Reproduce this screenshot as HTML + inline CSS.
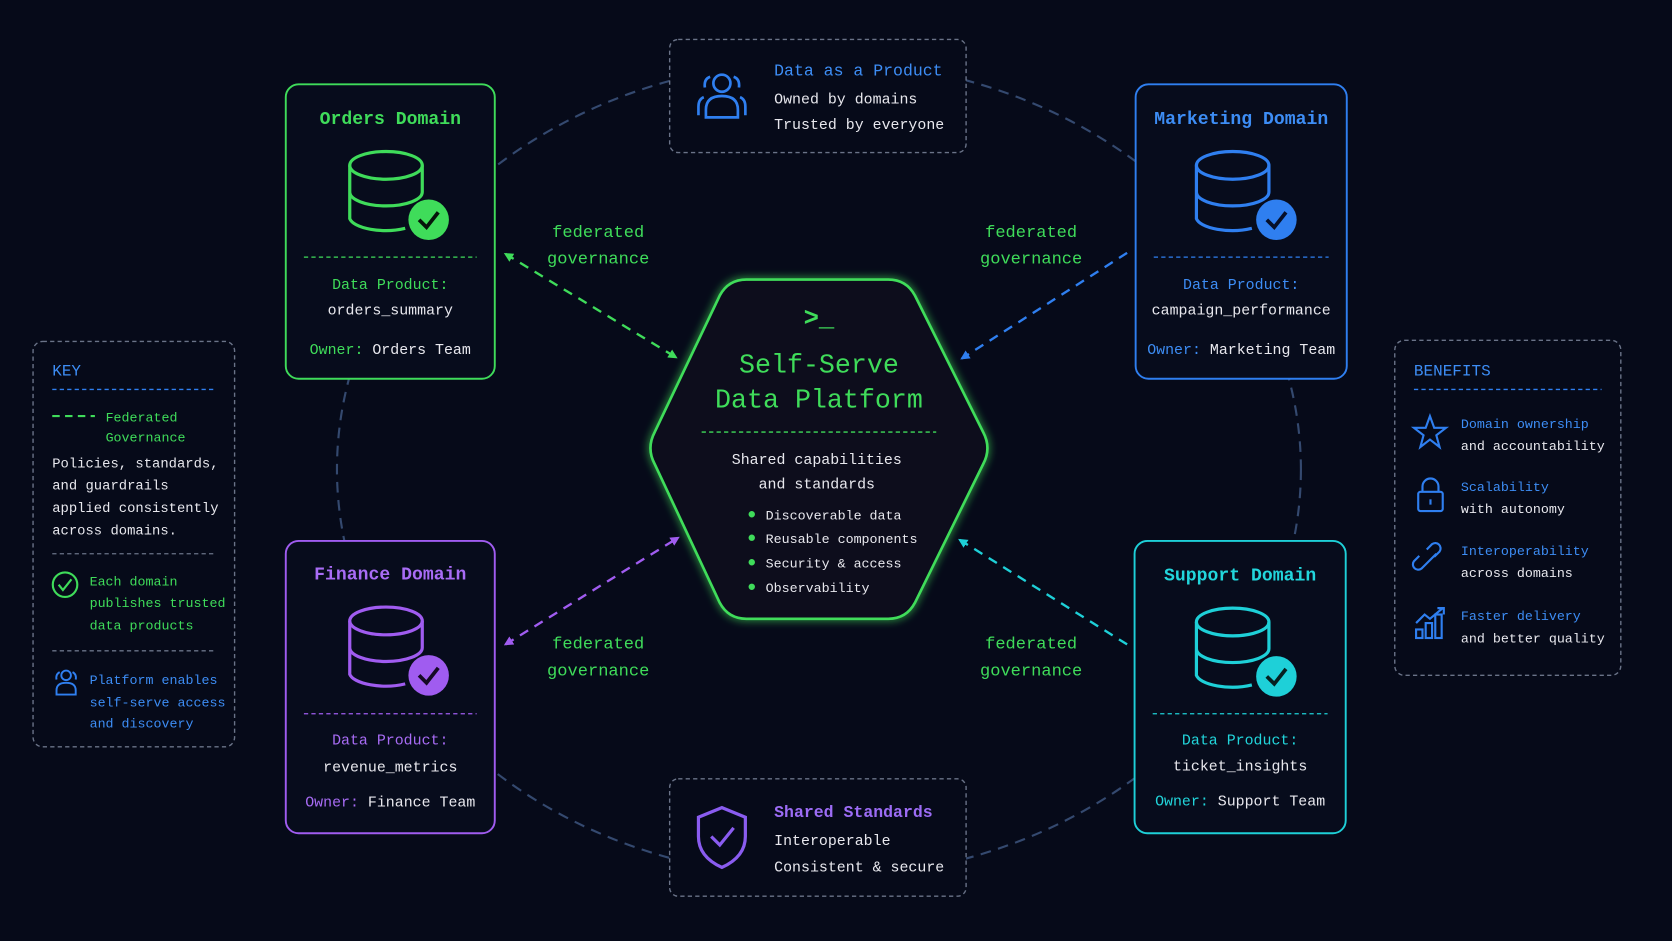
<!DOCTYPE html>
<html><head><meta charset="utf-8"><style>
html,body{margin:0;padding:0;background:#060a19;}
svg{display:block;}
text{font-family:"Liberation Mono","DejaVu Sans Mono",monospace;}
</style></head><body>
<svg width="1672" height="941" viewBox="0 0 1568 882" preserveAspectRatio="none" xmlns="http://www.w3.org/2000/svg">
<defs>
<filter id="glow" x="-20%" y="-20%" width="140%" height="140%"><feGaussianBlur stdDeviation="4" result="b"/><feMerge><feMergeNode in="b"/><feMergeNode in="SourceGraphic"/></feMerge></filter>
<marker id="ag" viewBox="0 0 10 10" refX="8" refY="5" markerWidth="4" markerHeight="4" orient="auto-start-reverse"><path d="M0,0 L10,5 L0,10 z" fill="#3fdc5a"/></marker>
<marker id="ab" viewBox="0 0 10 10" refX="8" refY="5" markerWidth="4" markerHeight="4" orient="auto-start-reverse"><path d="M0,0 L10,5 L0,10 z" fill="#2f7ff0"/></marker>
<marker id="ap" viewBox="0 0 10 10" refX="8" refY="5" markerWidth="4" markerHeight="4" orient="auto-start-reverse"><path d="M0,0 L10,5 L0,10 z" fill="#a05cf0"/></marker>
<marker id="ac" viewBox="0 0 10 10" refX="8" refY="5" markerWidth="4" markerHeight="4" orient="auto-start-reverse"><path d="M0,0 L10,5 L0,10 z" fill="#1ed0d8"/></marker>
</defs>
<rect width="1568" height="882" fill="#060a19"/>

<ellipse cx="768" cy="440" rx="452" ry="383" fill="none" stroke="#34496f" stroke-width="2" stroke-dasharray="10 7"/>

<g stroke-width="2.2" stroke-dasharray="9 7" fill="none">
<line x1="474" y1="238" x2="634" y2="335" stroke="#3fdc5a" marker-start="url(#ag)" marker-end="url(#ag)"/>
<line x1="1057" y1="237" x2="902" y2="336" stroke="#2f7ff0" marker-end="url(#ab)"/>
<line x1="474" y1="604" x2="636" y2="504" stroke="#a05cf0" marker-start="url(#ap)" marker-end="url(#ap)"/>
<line x1="1057" y1="604" x2="900" y2="506" stroke="#1ed0d8" marker-end="url(#ac)"/>
</g>
<g fill="#3fdc5a" font-size="16" text-anchor="middle">
<text x="561" y="222">federated</text><text x="561" y="247">governance</text>
<text x="967" y="222">federated</text><text x="967" y="247">governance</text>
<text x="561" y="608">federated</text><text x="561" y="633">governance</text>
<text x="967" y="608">federated</text><text x="967" y="633">governance</text>
</g>

<path d="M700,262 L833,262 Q850,262 858,277 L922,405 Q930,420 922,435 L858,565 Q850,580 833,580 L700,580 Q683,580 675,565 L614,435 Q606,420 614,405 L675,277 Q683,262 700,262 Z" fill="#070b1a" stroke="#3fdc5a" stroke-width="2.5" stroke-linejoin="round" filter="url(#glow)"/>
<text x="768" y="305" fill="#3fdc5a" font-size="24" text-anchor="middle" font-weight="bold">&gt;_</text>
<text x="768" y="349" fill="#3fdc5a" font-size="25" text-anchor="middle">Self-Serve</text>
<text x="768" y="382" fill="#3fdc5a" font-size="25" text-anchor="middle">Data Platform</text>
<line x1="658" y1="405" x2="878" y2="405" stroke="#3fdc5a" stroke-width="1.3" stroke-dasharray="4 3"/>
<text x="766" y="435" fill="#e8e8ee" font-size="14" text-anchor="middle">Shared capabilities</text>
<text x="766" y="458" fill="#e8e8ee" font-size="14" text-anchor="middle">and standards</text>
<g fill="#3fdc5a"><circle cx="705" cy="482" r="3"/><circle cx="705" cy="504" r="3"/><circle cx="705" cy="527" r="3"/><circle cx="705" cy="550" r="3"/></g>
<g fill="#e8e8ee" font-size="12.5">
<text x="718" y="487">Discoverable data</text><text x="718" y="509">Reusable components</text>
<text x="718" y="532">Security &amp; access</text><text x="718" y="555">Observability</text></g>

<g font-size="14" text-anchor="middle">
<rect x="268" y="79" width="196" height="276" rx="12" fill="#070c1c" stroke="#3fdc5a" stroke-width="1.8"/>
<text x="366" y="116" fill="#3fdc5a" font-size="17" font-weight="bold">Orders Domain</text>
<g stroke="#3fdc5a" stroke-width="3" fill="none"><ellipse cx="362" cy="155" rx="34" ry="13"/><path d="M328,155 V205 A34,13 0 0 0 380,214 M396,155 V180 M328,180 A34,13 0 0 0 396,180"/></g>
<circle cx="402" cy="206" r="19" fill="#3fdc5a"/><path d="M393,206 L400,213 L411,199" stroke="#06150a" stroke-width="3.5" fill="none"/>
<line x1="285" y1="241" x2="447" y2="241" stroke="#3fdc5a" stroke-width="1.2" stroke-dasharray="4 3"/>
<text x="366" y="271" fill="#3fdc5a">Data Product:</text>
<text x="366" y="295" fill="#e8e8ee">orders_summary</text>
<text x="366" y="332" fill="#e8e8ee"><tspan fill="#3fdc5a">Owner:</tspan> Orders Team</text>

<rect x="1065" y="79" width="198" height="276" rx="12" fill="#070c1c" stroke="#2f7ff0" stroke-width="1.8"/>
<text x="1164" y="116" fill="#3d8df5" font-size="17" font-weight="bold">Marketing Domain</text>
<g stroke="#2f7ff0" stroke-width="3" fill="none"><ellipse cx="1156" cy="155" rx="34" ry="13"/><path d="M1122,155 V205 A34,13 0 0 0 1174,214 M1190,155 V180 M1122,180 A34,13 0 0 0 1190,180"/></g>
<circle cx="1197" cy="206" r="19" fill="#2f7ff0"/><path d="M1188,206 L1195,213 L1206,199" stroke="#06102a" stroke-width="3.5" fill="none"/>
<line x1="1082" y1="241" x2="1246" y2="241" stroke="#2f7ff0" stroke-width="1.2" stroke-dasharray="4 3"/>
<text x="1164" y="271" fill="#3d8df5">Data Product:</text>
<text x="1164" y="295" fill="#e8e8ee">campaign_performance</text>
<text x="1164" y="332" fill="#e8e8ee"><tspan fill="#3d8df5">Owner:</tspan> Marketing Team</text>

<rect x="268" y="507" width="196" height="274" rx="12" fill="#070c1c" stroke="#a05cf0" stroke-width="1.8"/>
<text x="366" y="543" fill="#a86cf5" font-size="17" font-weight="bold">Finance Domain</text>
<g stroke="#a05cf0" stroke-width="3" fill="none"><ellipse cx="362" cy="582" rx="34" ry="13"/><path d="M328,582 V632 A34,13 0 0 0 380,641 M396,582 V607 M328,607 A34,13 0 0 0 396,607"/></g>
<circle cx="402" cy="633" r="19" fill="#a05cf0"/><path d="M393,633 L400,640 L411,626" stroke="#150a25" stroke-width="3.5" fill="none"/>
<line x1="285" y1="669" x2="447" y2="669" stroke="#a05cf0" stroke-width="1.2" stroke-dasharray="4 3"/>
<text x="366" y="698" fill="#a86cf5">Data Product:</text>
<text x="366" y="723" fill="#e8e8ee">revenue_metrics</text>
<text x="366" y="756" fill="#e8e8ee"><tspan fill="#a86cf5">Owner:</tspan> Finance Team</text>

<rect x="1064" y="507" width="198" height="274" rx="12" fill="#070c1c" stroke="#1ed0d8" stroke-width="1.8"/>
<text x="1163" y="544" fill="#22d6dc" font-size="17" font-weight="bold">Support Domain</text>
<g stroke="#1ed0d8" stroke-width="3" fill="none"><ellipse cx="1156" cy="583" rx="34" ry="13"/><path d="M1122,583 V633 A34,13 0 0 0 1174,642 M1190,583 V608 M1122,608 A34,13 0 0 0 1190,608"/></g>
<circle cx="1197" cy="634" r="19" fill="#1ed0d8"/><path d="M1188,634 L1195,641 L1206,627" stroke="#062020" stroke-width="3.5" fill="none"/>
<line x1="1081" y1="669" x2="1245" y2="669" stroke="#1ed0d8" stroke-width="1.2" stroke-dasharray="4 3"/>
<text x="1163" y="698" fill="#22d6dc">Data Product:</text>
<text x="1163" y="722" fill="#e8e8ee">ticket_insights</text>
<text x="1163" y="755" fill="#e8e8ee"><tspan fill="#22d6dc">Owner:</tspan> Support Team</text>
</g>

<rect x="628" y="37" width="278" height="106" rx="8" fill="#060a19" stroke="#6a7388" stroke-width="1.3" stroke-dasharray="4 3"/>
<g stroke="#2f7ff0" stroke-width="2.5" fill="none">
<circle cx="677" cy="78" r="8"/><path d="M662,110 V103 Q662,90 677,90 Q692,90 692,103 V110 Z"/>
<path d="M666,72 Q660,74 661,82 M688,72 Q694,74 693,82 M655,108 V100 Q655,93 660,91 M699,108 V100 Q699,93 694,91"/></g>
<text x="726" y="71" fill="#3d8df5" font-size="15.5">Data as a Product</text>
<text x="726" y="97" fill="#e8e8ee" font-size="14">Owned by domains</text>
<text x="726" y="121" fill="#e8e8ee" font-size="14">Trusted by everyone</text>

<rect x="628" y="730" width="278" height="110" rx="8" fill="#060a19" stroke="#6a7388" stroke-width="1.3" stroke-dasharray="4 3"/>
<path d="M677,757 L699,766 V784 Q699,803 677,813 Q655,803 655,784 V766 Z" stroke="#8a5cf0" stroke-width="3" fill="none"/>
<path d="M667,784 L675,792 L688,776" stroke="#8a5cf0" stroke-width="3" fill="none"/>
<text x="726" y="766" fill="#9c6cf5" font-size="15.5" font-weight="bold">Shared Standards</text>
<text x="726" y="792" fill="#e8e8ee" font-size="14">Interoperable</text>
<text x="726" y="817" fill="#e8e8ee" font-size="14">Consistent &amp; secure</text>

<rect x="31" y="320" width="189" height="380" rx="9" fill="#060a19" stroke="#6a7388" stroke-width="1.3" stroke-dasharray="4 3"/>
<text x="49" y="352" fill="#3d8df5" font-size="15">KEY</text>
<line x1="49" y1="365" x2="202" y2="365" stroke="#2f7ff0" stroke-width="1.3" stroke-dasharray="4 3"/>
<line x1="49" y1="390" x2="89" y2="390" stroke="#3fdc5a" stroke-width="2" stroke-dasharray="7 5"/>
<g font-size="12.5">
<text x="99" y="395" fill="#3fdc5a">Federated</text>
<text x="99" y="414" fill="#3fdc5a">Governance</text>
<text x="49" y="438" fill="#e8e8ee" font-size="13">Policies, standards,</text>
<text x="49" y="459" fill="#e8e8ee" font-size="13">and guardrails</text>
<text x="49" y="480" fill="#e8e8ee" font-size="13">applied consistently</text>
<text x="49" y="501" fill="#e8e8ee" font-size="13">across domains.</text>
<line x1="49" y1="519" x2="202" y2="519" stroke="#6a7388" stroke-width="1.2" stroke-dasharray="4 3"/>
<circle cx="61" cy="548" r="11.5" stroke="#3fdc5a" stroke-width="2" fill="none"/>
<path d="M55,548 L59,553 L67,543" stroke="#3fdc5a" stroke-width="2" fill="none"/>
<text x="84" y="549" fill="#3fdc5a">Each domain</text>
<text x="84" y="569" fill="#3fdc5a">publishes trusted</text>
<text x="84" y="590" fill="#3fdc5a">data products</text>
<line x1="49" y1="610" x2="202" y2="610" stroke="#6a7388" stroke-width="1.2" stroke-dasharray="4 3"/>
<g stroke="#2f7ff0" stroke-width="1.8" fill="none"><circle cx="62" cy="633" r="4.5"/><path d="M53,651 V647 Q53,640 62,640 Q71,640 71,647 V651 Z M56,630 Q52,632 53,637 M68,630 Q72,632 71,637"/></g>
<text x="84" y="641" fill="#3d8df5">Platform enables</text>
<text x="84" y="662" fill="#3d8df5">self-serve access</text>
<text x="84" y="682" fill="#3d8df5">and discovery</text>
</g>

<rect x="1308" y="319" width="212" height="314" rx="9" fill="#060a19" stroke="#6a7388" stroke-width="1.3" stroke-dasharray="4 3"/>
<text x="1326" y="352" fill="#3d8df5" font-size="15">BENEFITS</text>
<line x1="1326" y1="365" x2="1502" y2="365" stroke="#2f7ff0" stroke-width="1.3" stroke-dasharray="4 3"/>
<g stroke="#2f7ff0" stroke-width="2" fill="none">
<path d="M1341,390 L1345,401 L1356,401 L1347,408 L1350,419 L1341,412 L1332,419 L1335,408 L1326,401 L1337,401 Z"/>
<rect x="1330" y="461" width="23" height="18" rx="2"/><path d="M1334,461 V456 A7.5,7.5 0 0 1 1349,456 V461"/><path d="M1341.5,468 V473"/>
<path d="M1338,528 L1333,533 A5,5 0 0 1 1326,526 L1331,521 M1345,522 L1350,517 A5,5 0 0 0 1343,510 L1338,515 M1336,530 L1347,519"/>
<rect x="1328" y="590" width="6" height="8"/><rect x="1337" y="584" width="6" height="14"/><rect x="1346" y="576" width="6" height="22"/>
<path d="M1328,584 L1336,576 L1341,580 L1353,570 M1348,570 H1354 V576"/></g>
<g font-size="12.5">
<text x="1370" y="401" fill="#3d8df5">Domain ownership</text><text x="1370" y="422" fill="#e8e8ee">and accountability</text>
<text x="1370" y="460" fill="#3d8df5">Scalability</text><text x="1370" y="481" fill="#e8e8ee">with autonomy</text>
<text x="1370" y="520" fill="#3d8df5">Interoperability</text><text x="1370" y="541" fill="#e8e8ee">across domains</text>
<text x="1370" y="581" fill="#3d8df5">Faster delivery</text><text x="1370" y="602" fill="#e8e8ee">and better quality</text>
</g>
</svg>
</body></html>
